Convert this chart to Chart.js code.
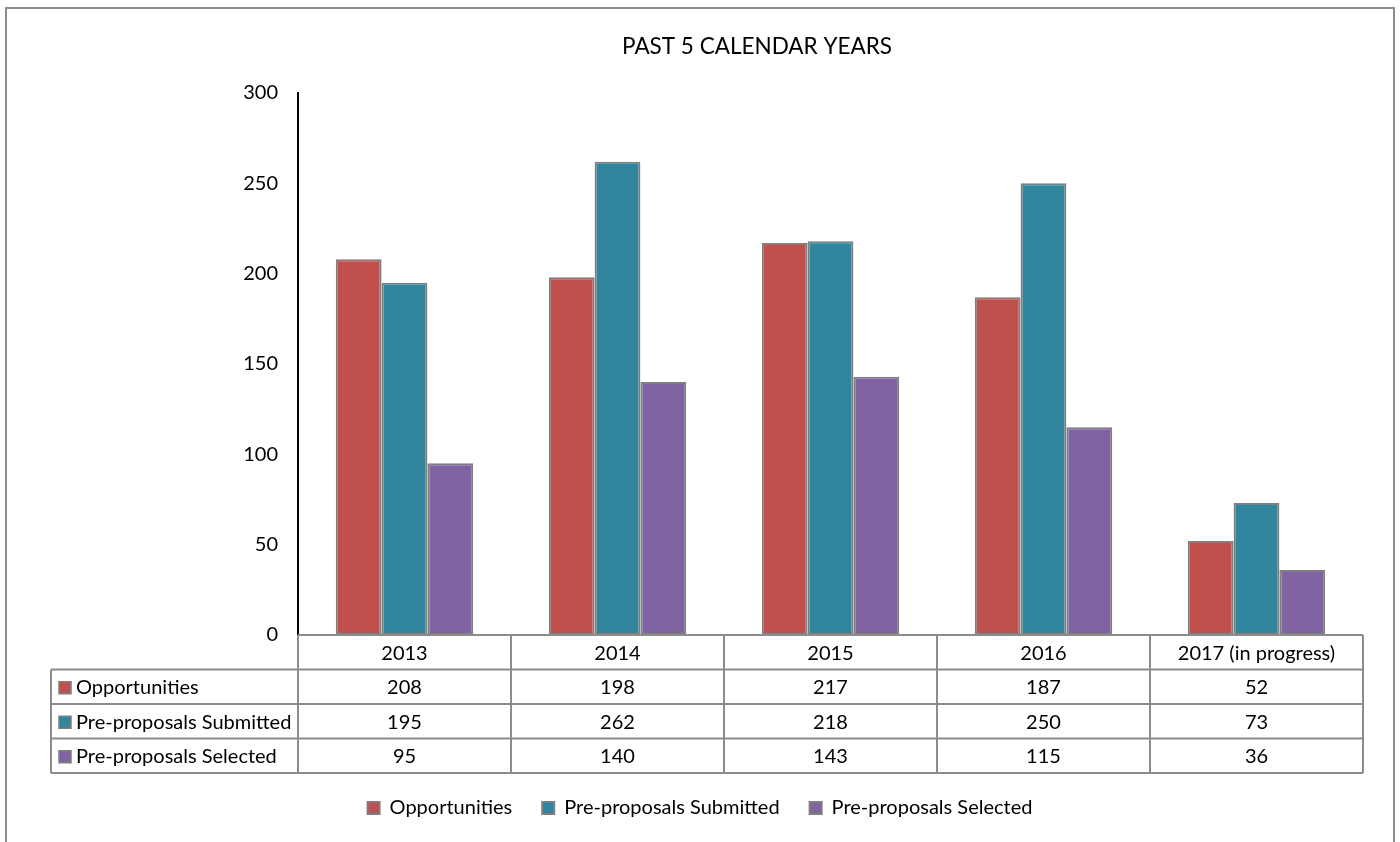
<!DOCTYPE html>
<html>
<head>
<meta charset="utf-8">
<script src="https://cdn.jsdelivr.net/npm/chart.js@4.4.0/dist/chart.umd.min.js"></script>
<style>
  html, body { margin: 0; padding: 0; background: #fff; overflow: hidden; }
  #frame { position: absolute; left: 5px; top: 7px; width: 1386px; height: 900px; border: 2px solid #8c8c8c; }
  #wrap { position: absolute; left: 0; top: 0; width: 1400px; height: 842px; }
</style>
</head>
<body>
<div id="frame"></div>
<div id="wrap"><canvas id="chart" width="1400" height="842"></canvas></div>
<script>
// data
const years = ["2013", "2014", "2015", "2016", "2017 (in progress)"];
const opportunities = [208, 198, 217, 187, 52];
const submitted = [195, 262, 218, 250, 73];
const selected = [95, 140, 143, 115, 36];
const yTicks = [0, 50, 100, 150, 200, 250, 300];

const FONT = "Lato, 'Noto Sans', sans-serif";
const GRID = "#8c8c8c";

// title + data table under the plot
const tablePlugin = {
  id: "dataTable",
  afterDraw(chart) {
    const ctx = chart.ctx;
    const x = chart.scales.x;
    const area = chart.chartArea;
    const colW = (area.right - area.left) / years.length;
    const rowH = 34.5;
    const top = area.bottom;
    const leftX = 51;
    const rows = chart.data.datasets;

    ctx.save();
    // title
    ctx.fillStyle = "#000";
    ctx.font = "22.5px " + FONT;
    ctx.textAlign = "center";
    ctx.textBaseline = "middle";
    ctx.fillText("PAST 5 CALENDAR YEARS", 757, 47);

    ctx.strokeStyle = GRID;
    ctx.lineWidth = 2;
    ctx.beginPath();
    ctx.moveTo(area.left, top); ctx.lineTo(area.right, top);
    for (let r = 1; r <= rows.length + 1; r++) {
      const y = top + r * rowH;
      ctx.moveTo(leftX, y);
      ctx.lineTo(area.right, y);
    }
    for (let i = 0; i <= years.length; i++) {
      const vx = area.left + i * colW;
      ctx.moveTo(vx, top); ctx.lineTo(vx, top + (rows.length + 1) * rowH);
    }
    ctx.moveTo(leftX, top + rowH); ctx.lineTo(leftX, top + (rows.length + 1) * rowH);
    ctx.stroke();

    ctx.font = "20px " + FONT;
    ctx.fillStyle = "#000";
    ctx.textAlign = "center";
    years.forEach((yr, i) => {
      ctx.fillText(yr, x.getPixelForValue(i), top + rowH / 2 + 1);
    });
    rows.forEach((ds, r) => {
      const cy = top + (r + 1) * rowH + rowH / 2 + 1;
      ds.data.forEach((v, i) => {
        ctx.fillText(String(v), x.getPixelForValue(i), cy);
      });
      ctx.fillStyle = ds.backgroundColor;
      ctx.fillRect(59, cy - 6, 12, 12);
      ctx.strokeStyle = "#7f7f7f";
      ctx.lineWidth = 1.5;
      ctx.strokeRect(59, cy - 6, 12, 12);
      ctx.fillStyle = "#000";
      ctx.textAlign = "left";
      ctx.fillText(ds.label, 76, cy);
      ctx.textAlign = "center";
    });
    ctx.restore();
  }
};

new Chart(document.getElementById("chart"), {
  type: "bar",
  data: {
    labels: years,
    datasets: [
      { label: "Opportunities", data: opportunities, backgroundColor: "#C0504D" },
      { label: "Pre-proposals Submitted", data: submitted, backgroundColor: "#31859C" },
      { label: "Pre-proposals Selected", data: selected, backgroundColor: "#8064A2" }
    ].map(d => Object.assign(d, { borderColor: "#7f7f7f", borderWidth: 2, borderSkipped: false }))
  },
  options: {
    responsive: false,
    animation: false,
    events: [],
    layout: { padding: { top: 93, left: 0, right: 0, bottom: 14 } },
    datasets: { bar: { categoryPercentage: 0.645, barPercentage: 1 } },
    scales: {
      x: {
        ticks: { display: false },
        grid: { display: false },
        border: { display: false },
        afterFit: s => { s.height = 133; }
      },
      y: {
        min: 0,
        max: 300,
        afterBuildTicks: s => { s.ticks = yTicks.map(v => ({ value: v })); },
        ticks: { color: "#000", font: { family: FONT, size: 20 }, padding: 20 },
        grid: { display: false, drawTicks: false },
        border: { display: true, color: "#000", width: 2 },
        afterFit: s => { s.width = 298; }
      },
      pad: {
        position: "right",
        display: true,
        ticks: { display: false },
        grid: { display: false, drawTicks: false },
        border: { display: false },
        afterFit: s => { s.width = 37; }
      }
    },
    plugins: {
      title: { display: false },
      tooltip: { enabled: false },
      legend: {
        position: "bottom",
        labels: { color: "#000", font: { family: FONT, size: 20 }, boxWidth: 12, boxHeight: 12, padding: 30 }
      }
    }
  },
  plugins: [tablePlugin]
});
</script>
</body>
</html>
